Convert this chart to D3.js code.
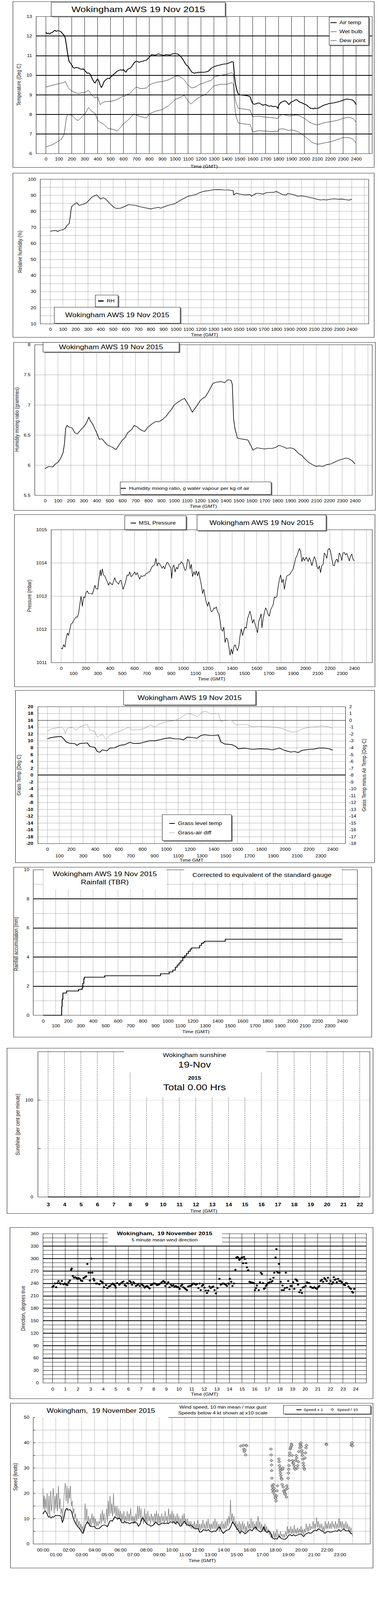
<!DOCTYPE html>
<html><head><meta charset="utf-8">
<script src="https://cdn.jsdelivr.net/npm/d3@7"></script>
<style>
html,body{margin:0;padding:0;background:#fff;}
svg{display:block;font-family:"Liberation Sans",Arial,sans-serif;}
</style></head><body>
<svg id="c" width="1000" height="4096" viewBox="0 0 1000 5000" preserveAspectRatio="none"></svg>
<script>
// ---------------- DATA ----------------
const hundreds = [0,100,200,300,400,500,600,700,800,900,1000,1100,1200,1300,1400,1500,1600,1700,1800,1900,2000,2100,2200,2300,2400];
const hundredsGrid = [0,100,200,300,400,500,600,700,800,900,1000,1100,1200,1300,1400,1500,1600,1700,1800,1900,2000,2100,2200,2300,2400,2500];
const evenHundreds = [0,200,400,600,800,1000,1200,1400,1600,1800,2000,2200,2400];
const oddHundreds = [100,300,500,700,900,1100,1300,1500,1700,1900,2100,2300];
const hours24 = [0,1,2,3,4,5,6,7,8,9,10,11,12,13,14,15,16,17,18,19,20,21,22,23,24];
const hours25 = [0,1,2,3,4,5,6,7,8,9,10,11,12,13,14,15,16,17,18,19,20,21,22,23,24,25];
const evenHours = [0,2,4,6,8,10,12,14,16,18,20,22];
const oddHours = [1,3,5,7,9,11,13,15,17,19,21,23];
const sunHours = [3,4,5,6,7,8,9,10,11,12,13,14,15,16,17,18,19,20,21,22];

const tempTicks = [6,7,8,9,10,11,12,13];
const rhTicks = [10,20,30,40,50,60,70,80,90,100];
const mixTicks = [5.5,6,6.5,7,7.5,8];
const presTicks = [1011,1012,1013,1014,1015];
const grassTicks = [-20,-18,-16,-14,-12,-10,-8,-6,-4,-2,0,2,4,6,8,10,12,14,16,18,20];
const diffTicks = [-18,-17,-16,-15,-14,-13,-12,-11,-10,-9,-8,-7,-6,-5,-4,-3,-2,-1,0,1,2];
const rainTicks = [0,2,4,6,8,10];
const sunTicks = [0,100];
const dirTicks = [0,30,60,90,120,150,180,210,240,270,300,330,360];
const speedTicks = [0,10,20,30,40,50];

const airTemp = [[0,12.2],[10,12.12],[20,12.15],[30,12.1],[40,12.18],[50,12.18],[60,12.25],[70,12.3],[80,12.24],[90,12.28],[100,12.27],[110,12.25],[120,12.2],[130,12.12],[140,12.05],[150,11.9],[155,11.7],[160,11.5],[165,11.25],[170,11.05],[175,10.85],[180,10.7],[190,10.62],[200,10.53],[210,10.4],[220,10.36],[235,10.4],[250,10.38],[265,10.33],[280,10.3],[290,10.33],[300,10.25],[310,10.18],[320,10.1],[330,10.12],[340,10.08],[350,9.95],[360,9.8],[370,9.68],[380,9.6],[390,9.72],[400,9.82],[410,9.7],[420,9.5],[430,9.37],[440,9.5],[450,9.68],[460,9.75],[470,9.8],[480,9.85],[490,9.82],[500,9.9],[510,9.95],[520,10.02],[535,10.1],[550,10.2],[565,10.25],[580,10.28],[590,10.25],[600,10.3],[610,10.2],[620,10.16],[630,10.28],[640,10.33],[650,10.35],[660,10.41],[670,10.5],[680,10.61],[690,10.68],[700,10.72],[710,10.7],[720,10.66],[735,10.7],[750,10.72],[765,10.75],[780,10.78],[790,10.85],[800,10.92],[810,11.0],[820,11.06],[835,11.04],[850,11.03],[860,11.06],[870,11.09],[885,11.07],[900,11.03],[915,11.02],[930,11.06],[945,11.05],[960,11.03],[970,11.07],[980,11.09],[990,11.1],[1000,11.12],[1010,11.1],[1020,11.09],[1030,11.04],[1040,10.98],[1050,10.9],[1060,10.81],[1070,10.7],[1080,10.58],[1090,10.5],[1100,10.47],[1110,10.35],[1120,10.25],[1130,10.15],[1140,10.13],[1150,10.1],[1160,10.13],[1170,10.12],[1180,10.16],[1190,10.14],[1200,10.16],[1215,10.15],[1230,10.16],[1245,10.18],[1260,10.22],[1270,10.3],[1280,10.36],[1290,10.4],[1300,10.44],[1315,10.47],[1330,10.5],[1345,10.52],[1360,10.55],[1375,10.57],[1390,10.58],[1405,10.6],[1420,10.64],[1430,10.66],[1440,10.7],[1450,10.67],[1455,10.3],[1460,9.91],[1465,9.65],[1470,9.46],[1480,9.18],[1490,9.05],[1500,9.0],[1515,8.99],[1530,8.98],[1545,8.97],[1560,8.95],[1570,8.93],[1580,8.9],[1590,8.72],[1600,8.56],[1610,8.52],[1620,8.53],[1635,8.57],[1650,8.59],[1665,8.52],[1680,8.47],[1690,8.5],[1700,8.5],[1715,8.45],[1730,8.42],[1745,8.44],[1760,8.39],[1775,8.42],[1790,8.36],[1795,8.3],[1800,8.45],[1810,8.55],[1820,8.62],[1835,8.66],[1850,8.7],[1860,8.65],[1870,8.59],[1880,8.5],[1890,8.58],[1900,8.64],[1910,8.66],[1920,8.7],[1930,8.74],[1940,8.76],[1950,8.7],[1960,8.64],[1970,8.62],[1980,8.59],[1990,8.56],[2000,8.53],[2010,8.5],[2020,8.47],[2030,8.4],[2040,8.36],[2050,8.3],[2060,8.31],[2070,8.28],[2080,8.33],[2090,8.3],[2100,8.31],[2110,8.33],[2120,8.36],[2135,8.42],[2150,8.47],[2165,8.5],[2180,8.53],[2190,8.56],[2200,8.56],[2215,8.58],[2230,8.59],[2245,8.62],[2260,8.64],[2275,8.67],[2290,8.7],[2300,8.73],[2315,8.76],[2330,8.79],[2345,8.77],[2360,8.76],[2370,8.74],[2380,8.7],[2390,8.62],[2400,8.5]];
const wetBulb = [[0,9.4],[25,9.44],[50,9.49],[75,9.53],[100,9.57],[120,9.6],[140,9.63],[150,9.68],[160,9.55],[170,9.4],[185,9.28],[200,9.2],[225,9.12],[250,9.06],[275,9.1],[300,9.12],[315,9.18],[330,9.23],[340,9.15],[350,9.04],[365,8.92],[380,8.84],[390,8.88],[400,8.9],[410,8.7],[420,8.5],[435,8.58],[450,8.64],[475,8.66],[500,8.67],[525,8.7],[550,8.76],[575,8.85],[600,8.95],[610,8.9],[620,9.0],[650,9.06],[665,9.18],[680,9.29],[700,9.4],[715,9.36],[730,9.32],[755,9.33],[780,9.35],[800,9.51],[825,9.57],[850,9.63],[875,9.66],[900,9.68],[925,9.72],[950,9.77],[975,9.85],[1000,9.94],[1020,9.97],[1035,9.93],[1050,9.88],[1065,9.8],[1080,9.68],[1090,9.58],[1100,9.49],[1115,9.42],[1130,9.35],[1145,9.38],[1160,9.4],[1180,9.5],[1200,9.57],[1220,9.6],[1240,9.66],[1260,9.7],[1280,9.74],[1290,9.82],[1300,9.91],[1320,9.95],[1340,9.97],[1370,10.02],[1400,10.06],[1420,10.1],[1440,10.13],[1450,10.07],[1455,9.6],[1460,9.06],[1465,8.8],[1470,8.62],[1480,8.45],[1490,8.31],[1510,8.29],[1530,8.28],[1555,8.25],[1580,8.22],[1590,8.05],[1600,7.88],[1625,7.9],[1650,7.91],[1675,7.88],[1700,7.86],[1725,7.85],[1750,7.83],[1775,7.82],[1790,7.78],[1800,7.88],[1815,7.95],[1830,8.0],[1850,7.97],[1870,7.94],[1885,7.92],[1900,7.94],[1920,7.96],[1940,7.97],[1960,7.94],[1980,7.87],[2000,7.8],[2020,7.7],[2040,7.6],[2060,7.54],[2080,7.49],[2100,7.47],[2125,7.52],[2150,7.57],[2175,7.6],[2200,7.63],[2225,7.66],[2250,7.69],[2275,7.74],[2300,7.8],[2320,7.83],[2340,7.86],[2360,7.83],[2380,7.77],[2390,7.7],[2400,7.6]];
const dewPoint = [[0,6.34],[25,6.4],[50,6.45],[75,6.55],[100,6.65],[120,6.73],[130,6.85],[140,6.96],[145,7.15],[150,7.38],[155,7.65],[160,7.88],[170,8.0],[185,7.98],[200,7.97],[215,7.87],[230,7.77],[240,7.72],[250,7.69],[275,7.85],[300,8.0],[315,8.18],[330,8.36],[340,8.28],[350,8.19],[365,8.12],[380,8.05],[390,7.9],[400,7.71],[410,7.65],[420,7.6],[435,7.55],[450,7.49],[465,7.38],[480,7.29],[500,7.26],[520,7.24],[535,7.2],[550,7.15],[565,7.25],[580,7.35],[600,7.52],[625,7.65],[650,7.8],[665,7.92],[680,8.03],[700,7.97],[725,7.9],[750,7.86],[765,7.84],[780,7.83],[800,8.03],[825,8.1],[850,8.17],[875,8.2],[900,8.25],[925,8.35],[950,8.45],[975,8.6],[1000,8.76],[1025,8.83],[1050,8.9],[1070,8.98],[1080,8.88],[1090,8.78],[1105,8.65],[1120,8.53],[1135,8.6],[1150,8.7],[1175,8.82],[1200,8.92],[1220,8.98],[1240,9.04],[1260,9.18],[1280,9.32],[1300,9.46],[1325,9.5],[1350,9.54],[1375,9.54],[1400,9.54],[1420,9.58],[1440,9.63],[1450,9.54],[1455,9.0],[1460,8.5],[1465,8.2],[1470,7.94],[1480,7.72],[1490,7.57],[1510,7.54],[1530,7.52],[1555,7.5],[1580,7.49],[1590,7.3],[1600,7.1],[1625,7.14],[1650,7.18],[1675,7.16],[1700,7.15],[1725,7.14],[1750,7.12],[1775,7.15],[1790,7.1],[1800,7.24],[1820,7.26],[1840,7.26],[1860,7.22],[1880,7.18],[1900,7.21],[1920,7.18],[1940,7.15],[1960,7.08],[1980,6.99],[2000,6.9],[2020,6.79],[2040,6.68],[2060,6.57],[2080,6.52],[2100,6.48],[2125,6.5],[2150,6.54],[2175,6.57],[2200,6.6],[2225,6.65],[2250,6.71],[2275,6.76],[2300,6.82],[2320,6.82],[2340,6.82],[2360,6.78],[2380,6.71],[2390,6.63],[2400,6.54]];

const relHum = [[0,67.4],[10,67.9],[30,68.0],[50,68.0],[60,67.4],[70,68.1],[100,68.6],[120,69.5],[130,71.0],[150,72.4],[155,75],[160,77.2],[165,81],[170,83.0],[190,84.4],[210,85.4],[230,83.7],[260,84.4],[290,85.4],[310,87.1],[330,88.8],[360,90.1],[370,90.2],[385,89],[400,87.7],[420,88.5],[440,87.8],[460,86.1],[480,84.4],[510,82.3],[530,81.8],[560,82.0],[600,83.3],[620,84.2],[650,84.0],[680,83.7],[710,83.0],[740,82.5],[770,82.0],[800,81.5],[830,82.1],[860,82.5],[880,82.0],[910,83.0],[950,84.0],[990,84.7],[1010,85.7],[1050,87.5],[1080,88.8],[1100,89.5],[1130,89.9],[1160,90.5],[1190,91.7],[1220,92.5],[1260,92.9],[1300,93.5],[1340,93.6],[1380,93.4],[1420,93.3],[1455,92.9],[1460,90.2],[1480,91.4],[1510,90.7],[1550,90.3],[1590,90.5],[1600,89.5],[1640,91.2],[1670,91.2],[1690,90.7],[1720,91.6],[1750,91.8],[1780,91.9],[1800,92.4],[1820,91.6],[1850,90.4],[1880,90.2],[1890,91.2],[1920,90.7],[1950,90.1],[1970,89.4],[2000,89.7],[2030,89.3],[2060,88.8],[2090,88.3],[2120,87.6],[2150,87.1],[2180,87.3],[2200,87.1],[2230,87.6],[2260,87.8],[2290,87.6],[2320,87.7],[2350,87.3],[2380,87.0],[2400,87.6]];

const mixRatio = [[0,5.94],[10,5.96],[30,5.98],[60,5.97],[80,6.02],[100,6.05],[120,6.11],[140,6.21],[150,6.35],[160,6.61],[170,6.66],[190,6.63],[210,6.62],[230,6.54],[250,6.52],[270,6.57],[300,6.64],[320,6.70],[340,6.80],[350,6.74],[370,6.68],[380,6.63],[400,6.54],[420,6.43],[440,6.44],[460,6.39],[480,6.34],[500,6.32],[520,6.30],[550,6.26],[580,6.36],[600,6.42],[620,6.46],[640,6.54],[670,6.59],[690,6.66],[710,6.64],[740,6.59],[770,6.56],[800,6.64],[830,6.69],[860,6.73],[880,6.72],[910,6.76],[940,6.82],[960,6.88],[980,6.93],[1000,7.0],[1030,7.05],[1060,7.09],[1080,7.11],[1100,7.04],[1120,6.97],[1140,6.88],[1160,6.94],[1180,7.0],[1200,7.07],[1220,7.11],[1240,7.13],[1260,7.2],[1280,7.28],[1300,7.36],[1330,7.38],[1360,7.39],[1390,7.37],[1410,7.41],[1420,7.42],[1440,7.41],[1450,7.34],[1460,6.77],[1470,6.61],[1490,6.45],[1510,6.44],[1540,6.43],[1570,6.42],[1590,6.34],[1610,6.25],[1640,6.29],[1670,6.28],[1700,6.27],[1730,6.28],[1760,6.28],[1790,6.30],[1810,6.33],[1840,6.31],[1870,6.28],[1900,6.29],[1930,6.27],[1960,6.2],[1990,6.16],[2010,6.11],[2040,6.05],[2070,6.01],[2100,5.98],[2120,5.99],[2150,5.98],[2180,6.01],[2210,6.02],[2240,6.05],[2270,6.08],[2300,6.10],[2330,6.12],[2350,6.11],[2380,6.07],[2400,6.02]];

const pressure = [[0,1011.44],[10,1011.41],[20,1011.54],[31,1011.47],[41,1011.72],[51,1011.89],[61,1011.82],[71,1011.99],[82,1012.17],[92,1012.19],[102,1012.27],[112,1012.32],[123,1012.38],[133,1012.37],[143,1012.48],[153,1012.75],[163,1013.0],[174,1012.70],[184,1012.98],[194,1012.95],[204,1013.11],[214,1013.16],[225,1013.08],[245,1013.08],[255,1013.06],[266,1013.18],[276,1013.33],[286,1013.23],[300,1013.21],[310,1013.51],[321,1013.79],[327,1013.61],[337,1013.82],[347,1013.64],[357,1013.61],[368,1013.51],[378,1013.44],[388,1013.33],[398,1013.42],[408,1013.38],[419,1013.34],[429,1013.44],[439,1013.56],[449,1013.44],[460,1013.41],[470,1013.36],[480,1013.46],[490,1013.48],[500,1013.33],[507,1013.21],[521,1013.34],[531,1013.48],[541,1013.64],[551,1013.62],[562,1013.73],[572,1013.59],[582,1013.61],[592,1013.68],[603,1013.73],[613,1013.64],[623,1013.71],[633,1013.61],[643,1013.51],[654,1013.62],[664,1013.59],[674,1013.62],[684,1013.61],[694,1013.68],[705,1013.69],[715,1013.73],[725,1013.73],[735,1013.82],[746,1013.89],[756,1013.92],[766,1013.96],[776,1014.14],[786,1013.91],[796,1014.01],[807,1013.97],[817,1013.91],[827,1013.84],[837,1013.91],[848,1013.82],[858,1013.94],[868,1014.02],[878,1013.99],[888,1013.91],[899,1013.84],[905,1013.54],[913,1013.87],[923,1013.94],[933,1013.73],[944,1013.87],[954,1013.82],[964,1013.96],[975,1013.97],[985,1014.04],[995,1013.99],[1005,1013.89],[1015,1013.77],[1025,1013.82],[1036,1014.11],[1046,1014.07],[1056,1013.82],[1066,1013.96],[1076,1013.59],[1087,1013.74],[1097,1013.64],[1107,1013.76],[1117,1013.61],[1127,1013.74],[1138,1013.51],[1148,1013.34],[1158,1013.08],[1168,1013.21],[1179,1012.98],[1189,1012.81],[1199,1012.70],[1209,1012.83],[1219,1012.67],[1230,1012.53],[1240,1012.55],[1250,1012.65],[1260,1012.63],[1270,1012.68],[1281,1012.53],[1291,1012.48],[1301,1012.28],[1311,1012.0],[1322,1011.95],[1332,1012.07],[1342,1011.61],[1352,1011.74],[1362,1011.72],[1373,1011.49],[1383,1011.23],[1393,1011.41],[1403,1011.26],[1414,1011.47],[1424,1011.54],[1434,1011.44],[1444,1011.36],[1455,1011.51],[1465,1011.82],[1475,1012.02],[1485,1011.82],[1495,1011.95],[1505,1012.07],[1516,1012.04],[1526,1012.32],[1536,1012.43],[1546,1012.55],[1556,1012.40],[1567,1012.19],[1577,1012.30],[1587,1012.17],[1597,1012.05],[1608,1011.90],[1618,1012.24],[1628,1012.35],[1638,1012.47],[1644,1012.05],[1654,1012.32],[1665,1012.52],[1675,1012.65],[1685,1012.57],[1695,1012.45],[1705,1012.40],[1716,1012.60],[1726,1012.67],[1736,1012.75],[1746,1012.98],[1756,1012.95],[1767,1013.01],[1777,1013.29],[1787,1013.51],[1797,1013.64],[1808,1013.41],[1818,1013.51],[1828,1013.21],[1838,1013.44],[1848,1013.61],[1859,1013.64],[1869,1013.64],[1900,1013.82],[1920,1014.14],[1930,1014.21],[1951,1014.44],[1961,1014.34],[1971,1014.04],[1981,1014.17],[1991,1014.07],[2008,1014.17],[2022,1014.04],[2032,1014.16],[2042,1014.07],[2053,1013.92],[2063,1014.07],[2073,1014.19],[2083,1014.11],[2094,1013.89],[2104,1013.82],[2114,1013.91],[2124,1013.71],[2134,1013.92],[2145,1013.96],[2155,1014.30],[2165,1014.24],[2175,1014.14],[2185,1014.40],[2196,1014.44],[2206,1014.34],[2216,1014.14],[2226,1013.94],[2236,1013.91],[2247,1014.07],[2257,1014.12],[2267,1014.02],[2277,1014.30],[2287,1014.24],[2298,1014.07],[2308,1014.30],[2318,1014.32],[2328,1014.24],[2339,1014.29],[2349,1014.17],[2359,1014.06],[2369,1014.20],[2380,1014.27],[2390,1014.11],[2400,1014.06]];

const grassTemp = [[0,10.6],[21,10.9],[52,11.1],[84,11.25],[115,11.3],[137,10.6],[158,9.7],[189,9.3],[231,9.2],[248,8.7],[273,9.25],[336,9.4],[357,8.4],[399,8.1],[420,6.9],[441,6.7],[462,7.4],[500,7.1],[525,7.9],[567,8.0],[609,8.7],[651,8.9],[693,9.6],[725,9.25],[777,9.3],[819,9.7],[861,10.05],[903,10.05],[945,10.35],[987,10.7],[1029,10.9],[1071,10.6],[1113,10.6],[1145,10.3],[1176,11.1],[1218,11.0],[1261,10.8],[1292,11.6],[1323,11.8],[1366,11.6],[1408,11.6],[1439,11.75],[1460,9.7],[1492,9.1],[1555,8.9],[1586,8.35],[1607,7.7],[1660,7.9],[1723,7.55],[1786,7.7],[1849,7.65],[1891,7.4],[1954,7.9],[1996,7.25],[2048,6.75],[2080,6.9],[2111,6.6],[2143,7.25],[2206,7.55],[2248,7.65],[2290,7.95],[2332,7.9],[2374,7.7],[2400,7.3]];
const grassDiff = [[0,-1.57],[31,-1.25],[84,-1.09],[115,-0.97],[137,-1.25],[151,-1.89],[168,-1.17],[210,-1.0],[242,-1.49],[273,-0.93],[315,-0.69],[336,-0.6],[357,-1.41],[399,-1.65],[420,-2.45],[441,-2.21],[462,-2.05],[494,-2.77],[525,-2.21],[567,-1.81],[609,-1.57],[651,-1.25],[683,-1.0],[714,-1.41],[777,-1.33],[819,-1.17],[861,-0.69],[903,-0.93],[945,-0.52],[987,-0.28],[1029,-0.12],[1071,-0.04],[1103,0.2],[1134,0.52],[1176,1.0],[1218,0.92],[1261,0.52],[1303,1.24],[1334,1.36],[1366,1.0],[1408,0.97],[1439,1.04],[1460,-0.2],[1492,0.04],[1555,-0.04],[1586,-0.69],[1618,-0.6],[1681,-0.6],[1723,-0.93],[1786,-0.85],[1849,-0.93],[1912,-1.0],[1975,-1.17],[2017,-1.49],[2059,-1.73],[2101,-1.65],[2143,-1.25],[2206,-1.0],[2269,-0.93],[2311,-0.8],[2363,-0.93],[2400,-1.17]];

const rainAccum = [[0,0],[144,0],[148,0.6],[152,1.1],[158,1.53],[188,1.67],[284,1.77],[312,1.9],[318,2.2],[326,2.5],[330,2.62],[494,2.72],[941,2.85],[1011,2.98],[1040,3.1],[1060,3.3],[1075,3.45],[1090,3.6],[1105,3.75],[1120,3.95],[1135,4.1],[1150,4.25],[1165,4.4],[1180,4.55],[1191,4.63],[1255,4.8],[1270,4.95],[1285,5.02],[1295,5.09],[1461,5.23],[2400,5.23]];

const sunshine = [[3,0],[4,0],[5,0],[6,0],[7,0],[8,0],[9,0],[10,0],[11,0],[12,0],[13,0],[14,0],[15,0],[16,0],[17,0],[18,0],[19,0],[20,0],[21,0],[22,0]];

// wind direction: [minutes, degrees]
const windDir = [[0,232],[5,234],[11,240],[17,231],[23,241],[28,246],[34,241],[38,239],[44,246],[52,238],[58,240],
[64,238],[70,236],[76,243],[82,247],[88,273],[91,276],[96,258],[102,254],[108,255],[114,253],[119,251],
[123,253],[129,251],[135,247],[141,246],[147,253],[153,255],[159,257],[165,287],[171,266],[177,247],[180,266],
[185,300],[189,266],[195,251],[198,247],[206,240],[212,240],[222,238],[228,246],[234,244],[238,242],
[245,231],[254,236],[260,229],[268,233],[274,234],[281,238],[286,240],[292,237],[298,234],[300,230],
[307,241],[317,237],[323,240],[331,243],[337,245],[343,236],[349,234],[355,241],[359,240],
[366,246],[372,243],[378,237],[384,243],[390,240],[396,234],[402,236],[408,239],[414,234],[420,239],
[426,237],[432,234],[438,230],[444,233],[449,234],[455,231],[461,228],[467,236],[473,237],[479,240],
[485,240],[491,239],[497,236],[503,237],[509,239],[515,241],[521,244],[527,246],[533,243],[536,234],
[544,239],[550,243],[556,231],[562,237],[568,234],[574,236],[580,232],[586,234],[592,231],[598,231],
[604,227],[610,234],[616,237],[621,231],[627,229],[633,226],[639,224],[645,233],[651,234],[657,234],
[663,237],[669,240],[675,239],[681,237],[687,239],[693,229],[699,240],[704,224],[710,234],[716,237],
[722,230],[728,223],[734,217],[740,223],[746,233],[752,229],[758,231],[764,233],[770,224],[776,216],
[784,229],[793,251],[799,237],[805,239],[811,240],[817,239],[823,237],[829,234],[835,240],[838,239],
[843,251],[849,244],[855,234],[862,240],[869,273],[874,303],[879,304],[885,301],[888,297],[894,300],
[900,303],[906,289],[910,304],[914,299],[920,289],[924,279],[930,272],[936,244],[942,243],[950,242],[956,241],
[962,224],[967,229],[971,235],[980,224],[986,243],[990,266],[995,263],[1000,241],[1005,227],[1009,229],[1014,234],[1019,237],
[1025,241],[1031,243],[1035,250],[1040,244],[1045,246],[1050,254],[1054,266],[1060,303],[1064,323],[1067,269],[1071,266],[1076,287],[1079,266],
[1084,244],[1090,224],[1093,235],[1099,224],[1104,229],[1109,266],[1114,230],[1120,246],[1126,226],[1131,234],[1137,234],
[1144,243],[1149,227],[1155,250],[1159,249],[1163,246],[1167,237],[1173,219],[1179,224],[1185,217],[1188,230],[1194,231],
[1203,234],[1209,243],[1214,241],[1220,241],[1226,232],[1232,230],[1238,229],[1244,231],[1250,229],[1256,227],
[1262,231],[1268,234],[1274,246],[1280,249],[1286,244],[1292,253],[1297,250],[1303,246],[1309,254],[1315,240],
[1321,246],[1327,239],[1333,243],[1337,255],[1341,249],[1346,250],[1351,243],[1357,251],[1363,246],[1369,246],[1375,243],
[1384,237],[1390,236],[1395,241],[1401,240],[1407,233],[1413,229],[1418,227],[1424,220],[1428,218],[1434,227]];

// wind speed: [hour, knots]
const windMean = [[0,11.8],[0.08,12.6],[0.19,13.1],[0.35,11.6],[0.44,10.6],[0.54,10.8],[0.64,10.3],[0.73,10.8],[0.83,10.6],[0.97,11.3],[1.12,11.2],[1.31,11.3],[1.41,10.8],[1.51,8.5],[1.6,9.8],[1.74,13.4],[1.86,14.1],[1.93,13.4],[2.09,13.6],[2.22,12.8],[2.32,10.8],[2.42,9.3],[2.57,7.8],[2.71,6.8],[2.82,6.2],[2.9,5.7],[3.02,4.7],[3.11,4.2],[3.21,5.7],[3.3,7.5],[3.44,8.8],[3.56,8.0],[3.67,7.0],[3.83,6.8],[3.98,7.0],[4.12,6.1],[4.25,6.0],[4.37,6.2],[4.5,6.8],[4.6,7.3],[4.75,7.5],[4.89,7.3],[4.99,6.8],[5.08,7.8],[5.18,9.0],[5.28,9.3],[5.37,9.0],[5.47,9.8],[5.57,10.8],[5.68,10.3],[5.8,9.8],[5.89,10.3],[5.99,9.8],[6.11,8.5],[6.24,8.3],[6.34,9.0],[6.44,8.3],[6.57,8.5],[6.73,8.0],[6.88,8.5],[7.02,8.3],[7.11,8.8],[7.27,8.3],[7.4,7.0],[7.54,8.0],[7.63,9.8],[7.73,10.3],[7.85,9.5],[7.92,8.8],[8.04,8.0],[8.18,7.5],[8.27,7.5],[8.37,7.0],[8.5,7.3],[8.62,7.8],[8.74,8.8],[8.85,8.0],[8.99,7.5],[9.14,8.0],[9.28,8.3],[9.43,8.0],[9.59,8.3],[9.72,8.0],[9.86,8.8],[10.01,8.5],[10.15,8.8],[10.26,8.0],[10.4,8.8],[10.53,8.0],[10.63,7.0],[10.75,7.3],[10.88,8.5],[10.98,9.0],[11.07,8.0],[11.21,7.5],[11.32,7.3],[11.46,7.5],[11.6,6.8],[11.75,6.2],[11.91,6.0],[12.04,6.1],[12.14,4.7],[12.29,4.8],[12.43,5.7],[12.52,5.5],[12.68,5.2],[12.81,5.7],[12.95,5.0],[13.1,4.7],[13.26,5.2],[13.39,5.0],[13.53,6.0],[13.68,6.8],[13.84,5.2],[13.97,4.2],[14.11,5.0],[14.26,5.5],[14.42,5.7],[14.55,6.8],[14.69,8.8],[14.79,8.0],[14.88,7.3],[15.04,6.0],[15.13,5.5],[15.27,4.2],[15.38,5.2],[15.52,4.7],[15.66,4.0],[15.77,4.5],[15.91,5.2],[16.04,5.7],[16.2,5.2],[16.35,6.2],[16.49,6.8],[16.58,5.7],[16.72,5.2],[16.87,4.7],[17.01,5.5],[17.12,6.8],[17.22,5.2],[17.36,4.5],[17.51,5.2],[17.65,4.2],[17.74,2.7],[17.84,2.2],[17.94,1.9],[18.03,2.2],[18.13,1.9],[18.23,2.7],[18.32,3.2],[18.42,2.4],[18.52,2.1],[18.65,1.9],[18.77,1.9],[18.9,2.4],[19.04,3.5],[19.15,3.7],[19.29,3.2],[19.42,3.7],[19.54,3.2],[19.68,3.5],[19.81,3.7],[19.93,4.0],[20.06,3.7],[20.2,2.9],[20.31,3.7],[20.45,4.2],[20.58,4.5],[20.7,4.2],[20.84,4.5],[20.97,5.2],[21.09,5.5],[21.22,5.2],[21.32,6.0],[21.45,5.7],[21.57,5.2],[21.7,5.0],[21.84,4.2],[21.96,4.7],[22.09,5.0],[22.23,4.7],[22.38,4.7],[22.52,5.0],[22.67,5.2],[22.81,5.0],[22.92,5.7],[23.06,5.0],[23.19,5.5],[23.31,6.0],[23.44,5.2],[23.58,5.2],[23.73,5.2],[23.83,4.2],[23.97,4.0]];
const windGust = [[0,22],[0.05,14],[0.1,19],[0.15,13],[0.2,18],[0.27,14],[0.33,20],[0.4,12],[0.47,19],[0.53,11],[0.6,21],[0.67,13],[0.73,17],[0.8,22],[0.87,12],[0.93,19],[1,14],[1.07,20],[1.13,13],[1.2,23],[1.27,14],[1.33,18],[1.4,12],[1.47,14],[1.53,10],[1.6,16],[1.67,21],[1.73,24],[1.8,17],[1.87,23],[1.93,16],[2,22],[2.07,18],[2.13,23],[2.2,15],[2.27,17],[2.33,12],[2.4,14],[2.47,10],[2.53,12],[2.6,8],[2.67,10],[2.73,7],[2.8,9],[2.87,6],[2.93,8],[3,5.5],[3.07,7],[3.13,4.5],[3.2,9],[3.27,16],[3.33,9],[3.4,14],[3.47,8],[3.53,11],[3.6,7],[3.67,10],[3.73,7],[3.8,12],[3.87,8],[3.93,11],[4,7],[4.07,10],[4.13,7],[4.2,9],[4.27,7],[4.33,9],[4.4,8],[4.47,12],[4.53,8],[4.6,13.5],[4.67,9],[4.73,12],[4.8,8],[4.87,10],[4.93,14],[5,9],[5.07,17],[5.13,11],[5.2,19],[5.27,12],[5.33,16],[5.4,11],[5.47,20],[5.53,12],[5.6,15],[5.67,11],[5.73,15],[5.8,10],[5.87,14],[5.93,10],[6,13],[6.07,9],[6.13,12],[6.2,9],[6.27,13],[6.33,9],[6.4,11],[6.47,9],[6.53,13],[6.6,9],[6.67,12],[6.73,9],[6.8,14],[6.87,9],[6.93,11],[7,8],[7.07,11],[7.13,8],[7.2,12],[7.27,9],[7.33,15],[7.4,10],[7.47,15],[7.53,10],[7.6,14],[7.67,9],[7.73,11],[7.8,8],[7.87,14],[7.93,9],[8,12],[8.07,8],[8.13,13],[8.2,9],[8.27,11],[8.33,8],[8.4,12],[8.47,9],[8.53,11],[8.6,8],[8.67,12],[8.73,9],[8.8,13],[8.87,8],[8.93,12],[9,8],[9.07,11],[9.13,8],[9.2,12],[9.27,9],[9.33,11],[9.4,8],[9.47,13],[9.53,9],[9.6,11],[9.67,8],[9.73,14],[9.8,9],[9.87,12],[9.93,9],[10,13],[10.07,8],[10.13,12],[10.2,8],[10.27,11],[10.33,7.5],[10.4,12],[10.47,8],[10.53,11],[10.6,8],[10.67,10],[10.73,7],[10.8,11.5],[10.87,8],[10.93,12],[11,8],[11.07,10],[11.13,7],[11.2,10],[11.27,7],[11.33,9],[11.4,6.5],[11.47,9],[11.53,6],[11.6,8],[11.67,6],[11.73,9],[11.8,5.5],[11.87,8],[11.93,6],[12,9.5],[12.07,5.5],[12.13,8],[12.2,5.5],[12.27,8],[12.33,6],[12.4,9.5],[12.47,6],[12.53,8],[12.6,5.5],[12.67,9],[12.73,6],[12.8,10],[12.87,6],[12.93,8],[13,5.5],[13.07,8],[13.13,6],[13.2,9],[13.27,6],[13.33,10],[13.4,6],[13.47,9],[13.53,5.5],[13.6,8],[13.67,5],[13.73,8],[13.8,6],[13.87,9],[13.93,6],[14,8],[14.07,6],[14.13,9],[14.2,6],[14.27,10],[14.33,7],[14.4,11],[14.47,8],[14.53,17.5],[14.6,9],[14.67,12],[14.73,8],[14.8,11],[14.87,7],[14.93,9],[15,5.5],[15.07,8],[15.13,5],[15.2,9],[15.27,5],[15.33,8],[15.4,5],[15.47,9],[15.53,5.5],[15.6,8],[15.67,4.5],[15.73,7],[15.8,5],[15.87,9],[15.93,6],[16,8],[16.07,6],[16.13,10],[16.2,6],[16.27,9],[16.33,6],[16.4,8],[16.47,5.5],[16.53,9],[16.6,6],[16.67,11],[16.73,6],[16.8,9],[16.87,5.5],[16.93,8],[17,5],[17.07,7],[17.13,5],[17.2,8],[17.27,5],[17.33,7],[17.4,4.5],[17.47,6],[17.53,3.5],[17.6,5],[17.67,2.5],[17.73,4],[17.8,2.5],[17.87,5],[17.93,2.5],[18,4.5],[18.07,2.5],[18.13,6],[18.2,3],[18.27,4],[18.33,2.5],[18.4,5],[18.47,3],[18.53,4],[18.6,2.5],[18.67,4],[18.73,2.5],[18.8,5],[18.87,3],[18.93,7],[19,4],[19.07,6],[19.13,4],[19.2,7],[19.27,4],[19.33,6],[19.4,4],[19.47,7.5],[19.53,4],[19.6,6],[19.67,4],[19.73,6.5],[19.8,4],[19.87,6],[19.93,4.5],[20,7],[20.07,4],[20.13,6],[20.2,3.5],[20.27,6],[20.33,4.5],[20.4,8],[20.47,5],[20.53,7],[20.6,5],[20.67,8],[20.73,5.5],[20.8,7],[20.87,6],[20.93,9],[21,6],[21.07,8],[21.13,6],[21.2,10.5],[21.27,6.5],[21.33,9],[21.4,6],[21.47,8],[21.53,6],[21.6,8],[21.67,5],[21.73,7],[21.8,5],[21.87,9],[21.93,6],[22,8],[22.07,6],[22.13,9],[22.2,6],[22.27,8],[22.33,6],[22.4,9],[22.47,6.5],[22.53,8],[22.6,6],[22.67,9],[22.73,6],[22.8,8],[22.87,6],[22.93,10],[23,6.5],[23.07,9],[23.13,6],[23.2,9],[23.27,6],[23.33,8],[23.4,6],[23.47,9],[23.53,6],[23.6,8],[23.67,5],[23.73,7],[23.8,4.5],[23.87,6.5],[23.93,4],[24,3]];
const windLowX10 = [[15.33,38.7],[15.52,39],[15.56,37.5],[15.6,36.5],[15.65,37.2],[15.7,35.2],[15.74,39],[15.78,38.8],
[17.66,37.5],[17.68,35.2],[17.7,33],[17.71,31.2],[17.72,29],[17.74,26],[17.76,23],[17.78,21.5],[17.8,22.5],[17.83,20.5],[17.86,23.5],[17.9,22],[17.93,21],[17.96,19.5],[18.0,18.5],[18.03,18],[18.06,17],[18.1,19],[18.13,21],[18.17,23],
[18.28,33.6],[18.3,32.5],[18.33,31],[18.36,30],[18.38,29],[18.4,28],[18.43,27],[18.46,26],[18.5,25.6],[18.53,23.5],[18.56,29.5],[18.58,30],
[18.62,22.5],[18.66,21],[18.7,20.5],[18.74,20],[18.78,19.5],[18.82,21.5],[18.86,18.5],[18.9,23],[18.94,22],
[19.0,26],[19.02,28],[19.04,29.5],[19.06,31],[19.08,33],[19.1,35],[19.13,36],[19.16,37.5],[19.19,38],[19.22,38.5],[19.25,39.5],[19.28,39],[19.31,35],[19.34,33],[19.37,32],
[19.42,32],[19.46,31],[19.5,30],[19.54,29.5],[19.58,33],[19.62,35],[19.66,34],[19.7,30],[19.74,31],[19.78,32.5],[19.82,36.5],
[19.9,38],[19.93,39.5],[19.96,39],[19.99,40],[20.02,38.5],[20.05,37],[20.08,36],[20.11,35],[20.14,33.5],[20.17,32],[20.2,31],[20.23,30],[20.26,29.5],[20.3,34],[20.34,36],[20.38,38],[20.42,39],
[21.95,39.5],[21.97,39.2],
[23.9,39],[23.93,39.5],[23.95,40],[23.97,38.8]];

// ---------------- HELPERS ----------------
const FONT = '"Liberation Sans",Arial,sans-serif';
const svg = d3.select('#c');
svg.append('rect').attr('width',1000).attr('height',5000).attr('fill','#fff');

function rect(g,x,y,w,h,o={}){
  return g.append('rect').attr('x',x).attr('y',y).attr('width',w).attr('height',h)
    .attr('fill',o.fill||'none').attr('stroke',o.stroke===undefined?'#000':o.stroke)
    .attr('stroke-width',o.sw||1).attr('shape-rendering','crispEdges');
}
function shadowBox(g,x,y,w,h){
  g.append('rect').attr('x',x+3).attr('y',y+3).attr('width',w).attr('height',h).attr('fill','#7f7f7f');
  rect(g,x,y,w,h,{fill:'#fff'});
}
function whiteBox(g,x,y,w,h){ g.append('rect').attr('x',x).attr('y',y).attr('width',w).attr('height',h).attr('fill','#fff'); }
function txt(g,x,y,s,o={}){
  const t=g.append('text').attr('x',x).attr('y',y).attr('font-size',o.size||12)
   .attr('text-anchor',o.anchor||'middle').attr('dominant-baseline','central')
   .attr('fill',o.fill||'#000').attr('font-family',FONT).text(s);
  if(o.weight) t.attr('font-weight',o.weight);
  if(o.rotate) t.attr('transform',`rotate(-90,${x},${y})`);
  if(o.pre) t.style('white-space','pre');
  return t;
}
function seg(g,x1,y1,x2,y2,o={}){
  return g.append('line').attr('x1',x1).attr('y1',y1).attr('x2',x2).attr('y2',y2)
   .attr('stroke',o.stroke||'#000').attr('stroke-width',o.sw||1)
   .attr('stroke-dasharray',o.dash||null).attr('shape-rendering','crispEdges');
}
function gridH(g,yS,vals,x0,x1,o={}){
  g.append('g').selectAll('line').data(vals).join('line')
   .attr('x1',x0).attr('x2',x1).attr('y1',d=>yS(d)).attr('y2',d=>yS(d))
   .attr('stroke',o.stroke||'#000').attr('stroke-width',o.sw||1)
   .attr('stroke-dasharray',o.dash||null).attr('shape-rendering','crispEdges');
}
function gridV(g,xS,vals,y0,y1,o={}){
  g.append('g').selectAll('line').data(vals).join('line')
   .attr('y1',y0).attr('y2',y1).attr('x1',d=>xS(d)).attr('x2',d=>xS(d))
   .attr('stroke',o.stroke||'#000').attr('stroke-width',o.sw||1)
   .attr('stroke-dasharray',o.dash||null).attr('shape-rendering','crispEdges');
}
function axisB(g,xS,y,vals,pad,size,fmt,weight){
  const ax=d3.axisBottom(xS).tickValues(vals).tickSize(0).tickPadding(pad).tickFormat(fmt||(d=>String(d)));
  const a=g.append('g').attr('transform',`translate(0,${y})`).call(ax);
  a.select('.domain').remove();
  a.attr('font-family',FONT).attr('font-size',size);
  a.selectAll('text').attr('fill','#000');
  if(weight) a.selectAll('text').attr('font-weight',weight);
}
function axisL(g,yS,x,vals,pad,size,fmt,weight){
  const ax=d3.axisLeft(yS).tickValues(vals).tickSize(0).tickPadding(pad).tickFormat(fmt||(d=>String(d)));
  const a=g.append('g').attr('transform',`translate(${x},0)`).call(ax);
  a.select('.domain').remove();
  a.attr('font-family',FONT).attr('font-size',size);
  a.selectAll('text').attr('fill','#000');
  if(weight) a.selectAll('text').attr('font-weight',weight);
}
function axisR(g,yS,x,vals,pad,size,fmt){
  const ax=d3.axisRight(yS).tickValues(vals).tickSize(0).tickPadding(pad).tickFormat(fmt||(d=>String(d)));
  const a=g.append('g').attr('transform',`translate(${x},0)`).call(ax);
  a.select('.domain').remove();
  a.attr('font-family',FONT).attr('font-size',size);
  a.selectAll('text').attr('fill','#000');
}
function path(g,data,xS,yS,o={}){
  const ln=d3.line().x(d=>xS(d[0])).y(d=>yS(d[1]));
  if(o.curve) ln.curve(o.curve);
  return g.append('path').datum(data).attr('d',ln).attr('fill','none')
   .attr('stroke',o.stroke||'#000').attr('stroke-width',o.sw||1).attr('stroke-linejoin','round');
}
const TITLE = 'Wokingham AWS 19 Nov 2015';
const DOT = '1,2';
const DIAMOND_SMALL = 'M0,-3.6L3.6,0L0,3.6L-3.6,0Z';
const DIAMOND_OPEN = 'M0,-4.2L4.2,0L0,4.2L-4.2,0Z';

// ---------------- PANEL 1: temperatures ----------------
{
  const g=svg.append('g');
  rect(g,33,5,924,518);
  const x=d3.scaleLinear().domain([-75,2525]).range([92.5,952]);
  const y=d3.scaleLinear().domain([6,13]).range([480,51.6]);
  gridV(g,x,hundredsGrid,51.6,480,{sw:1});
  gridH(g,y,[7,8,9,10,11,12],92.5,952,{sw:2.4});
  rect(g,92.5,51.6,859.5,428.4);
  path(g,dewPoint,x,y,{sw:1});
  path(g,wetBulb,x,y,{sw:1});
  path(g,airTemp,x,y,{sw:2.2});
  axisL(g,y,92.5,tempTicks,10.5,12.5);
  axisB(g,x,480,hundreds,12.8,12.5);
  txt(g,522,520,'Time (GMT)',{size:13});
  txt(g,48,265,'Temperature (Deg C)',{size:14,rotate:true,fill:'#222'});
  shadowBox(g,131,7,445,44);
  txt(g,353.5,29,TITLE,{size:25});
  shadowBox(g,842,53,101,88);
  seg(g,845,70.5,861,70.5,{sw:3});
  seg(g,845,99,861,99,{sw:1});
  seg(g,845,127,861,127,{sw:1});
  txt(g,868,70.5,'Air temp',{size:15,anchor:'start'});
  txt(g,868,99,'Wet bulb',{size:15,anchor:'start'});
  txt(g,868,127,'Dew point',{size:15,anchor:'start'});
}

// ---------------- PANEL 2: RH ----------------
{
  const g=svg.append('g');
  rect(g,33,541,924,513);
  const x=d3.scaleLinear().domain([-80,2535]).range([103,943]);
  const y=d3.scaleLinear().domain([10,100]).range([1012,560.2]);
  gridV(g,x,hundredsGrid,560.2,1012,{dash:DOT});
  gridH(g,y,[15,20,25,30,35,40,45,50,55,60,65,70,75,80,85,90,95],103,943,{dash:DOT});
  rect(g,103,560.2,840,451.8);
  path(g,relHum,x,y,{sw:1.6});
  axisL(g,y,103,rhTicks,10.5,12.5);
  axisB(g,x,1012,hundreds,12.8,12.5);
  txt(g,523,1047,'Time (GMT)',{size:13});
  txt(g,51,786.6,'Relative humidity (%)',{size:14,rotate:true,fill:'#222'});
  shadowBox(g,244,922,58,37);
  seg(g,251,940.5,265,940.5,{sw:3});
  txt(g,273,940.5,'RH',{size:14,anchor:'start'});
  shadowBox(g,139,960,322,50);
  txt(g,300,985,TITLE,{size:19.5});
}

// ---------------- PANEL 3: mixing ratio ----------------
{
  const g=svg.append('g');
  rect(g,35,1070,925,525);
  const x=d3.scaleLinear().domain([-79,2533]).range([89,952]);
  const y=d3.scaleLinear().domain([5.5,8]).range([1548,1077.5]);
  gridV(g,x,hundredsGrid,1077.5,1548,{dash:DOT});
  gridH(g,y,[6,6.5,7,7.5],89,952,{dash:DOT});
  rect(g,89,1077.5,863,470.5);
  path(g,mixRatio,x,y,{sw:1.6});
  axisL(g,y,89,mixTicks,11,12.5);
  axisB(g,x,1548,hundreds,12.8,12.5);
  txt(g,520,1583,'Time (GMT)',{size:13});
  txt(g,43,1311,'Humidity mixing ratio (grammes)',{size:14,rotate:true,fill:'#222'});
  shadowBox(g,110,1070,348,30);
  txt(g,284,1085,TITLE,{size:19.5});
  shadowBox(g,307.5,1506,386,39);
  seg(g,309,1526,322,1526,{sw:3});
  txt(g,330,1526,'Humidity mixing ratio, g water vapour per kg of air',{size:14,anchor:'start'});
}

// ---------------- PANEL 4: pressure ----------------
{
  const g=svg.append('g');
  rect(g,37,1608,922,538);
  const x=d3.scaleLinear().domain([-81,2547]).range([131,952]);
  const y=d3.scaleLinear().domain([1011,1015]).range([2071,1655.4]);
  gridV(g,x,hundredsGrid,1655.4,2071,{dash:DOT});
  gridH(g,y,[1012,1013,1014],131,952,{dash:DOT});
  rect(g,131,1655.4,821,415.6);
  path(g,pressure,x,y,{sw:1.4});
  axisL(g,y,131,presTicks,11,12.5);
  axisB(g,x,2071,evenHundreds,13.8,12.5);
  axisB(g,x,2071,oddHundreds,29.8,12.5);
  txt(g,541,2122.5,'Time (GMT)',{size:13});
  txt(g,75,1862,'Pressure (mbar)',{size:14,rotate:true,fill:'#222'});
  shadowBox(g,319,1612,157,43);
  seg(g,334,1634.5,348,1634.5,{sw:3});
  txt(g,355,1634.5,'MSL Pressure',{size:15,anchor:'start'});
  shadowBox(g,504,1609,330,49);
  txt(g,669,1634,TITLE,{size:19.5});
}

// ---------------- PANEL 5: grass temperature ----------------
{
  const g=svg.append('g');
  rect(g,39.5,2157.5,918.5,538.5);
  const x=d3.scaleLinear().domain([-80,2509]).range([97,883.6]);
  const yL=d3.scaleLinear().domain([-20,20]).range([2636.4,2208.4]);
  const yR=d3.scaleLinear().domain([-18,2]).range([2636.4,2208.4]);
  gridV(g,x,hundreds,2208.4,2636.4,{dash:DOT});
  gridH(g,yL,[-18,-16,-14,-12,-10,-8,-6,-4,-2,2,4,6,8,10,12,14,18],97,883.6,{dash:DOT});
  gridH(g,yL,[16],97,883.6,{sw:1.2});
  gridH(g,yL,[0],97,883.6,{sw:2.4});
  rect(g,97,2208.4,786.6,428);
  path(g,grassDiff,x,yR,{sw:1,stroke:'#8a8a8a'});
  path(g,grassTemp,x,yL,{sw:2});
  axisL(g,yL,97,grassTicks,12,12.5,null,'bold');
  axisR(g,yR,883.6,diffTicks,9.4,12.5);
  axisB(g,x,2636.4,evenHundreds,14,12.5);
  axisB(g,x,2636.4,oddHundreds,34.4,12.5);
  txt(g,490,2688.6,'Time GMT',{size:13});
  txt(g,48,2422,'Grass Temp (Deg C)',{size:14,rotate:true,fill:'#222'});
  txt(g,931,2422,'Grass Temp minus Air Temp (Deg C)',{size:14,rotate:true,fill:'#222'});
  shadowBox(g,316,2157.5,338,45.5);
  txt(g,485,2181,TITLE,{size:19.5});
  shadowBox(g,415,2546,177,81);
  seg(g,432.5,2573,446.5,2573,{sw:3});
  seg(g,432.5,2602,446.5,2602,{sw:1,stroke:'#8a8a8a'});
  txt(g,455,2573,'Grass level temp',{size:15,anchor:'start'});
  txt(g,455,2602,'Grass-air diff',{size:15,anchor:'start'});
}

// ---------------- PANEL 6: rainfall ----------------
{
  const g=svg.append('g');
  rect(g,35,2710,915.6,531);
  const x=d3.scaleLinear().domain([-80,2521]).range([85,914]);
  const y=d3.scaleLinear().domain([0,10]).range([3172.7,2718.2]);
  gridV(g,x,hundreds,2718.2,3172.7,{dash:DOT});
  gridH(g,y,[1,3,5,7,9],85,914,{dash:DOT});
  gridH(g,y,[2,4,6,8],85,914,{sw:2.4});
  rect(g,85,2718.2,829,454.5);
  whiteBox(g,112,2716,314,63);
  whiteBox(g,471,2716,403,40);
  path(g,rainAccum,x,y,{sw:2.2,curve:d3.curveStepAfter});
  axisL(g,y,85,rainTicks,10,12.5);
  axisB(g,x,3172.7,evenHundreds,14,12.5);
  axisB(g,x,3172.7,oddHundreds,29,12.5);
  txt(g,501,3224,'Time (GMT)',{size:13});
  txt(g,41.5,2950,'Rainfall accumulation (mm)',{size:14,rotate:true,fill:'#222'});
  txt(g,268,2731,TITLE,{size:19.5});
  txt(g,268,2757.5,'Rainfall (TBR)',{size:19.5});
  txt(g,670,2734,'Corrected to equivalent of the standard gauge',{size:17.5});
}

// ---------------- PANEL 7: sunshine ----------------
{
  const g=svg.append('g');
  rect(g,18,3275.5,936,516.5);
  const x=d3.scaleLinear().domain([2.38,22.62]).range([97,946]);
  const y=d3.scaleLinear().domain([0,150]).range([3740.6,3286.6]);
  gridV(g,x,sunHours,3286.6,3740.6,{dash:'3,3'});
  gridH(g,y,[50,100],97,946,{dash:'1,1.5',stroke:'#999'});
  gridH(g,y,[50,100],97,104,{});
  rect(g,97,3286.6,849,454);
  whiteBox(g,317,3284,364,66);
  whiteBox(g,338,3350,325,78);
  path(g,sunshine,x,y,{sw:2.6});
  axisL(g,y,97,sunTicks,12,12.5);
  axisB(g,x,3740.6,sunHours,18,15,null,'bold');
  txt(g,521,3785,'Time (GMT)',{size:13});
  txt(g,45,3514,'Sunshine (per cent per minute)',{size:14,rotate:true,fill:'#222'});
  txt(g,497.6,3296.6,'Wokingham sunshine',{size:17});
  txt(g,497.6,3327,'19-Nov',{size:26});
  txt(g,497.6,3369,'2015',{size:15,weight:'bold'});
  txt(g,497.6,3397.6,'Total 0.00 Hrs',{size:26});
}

// ---------------- PANEL 8: wind direction ----------------
{
  const g=svg.append('g');
  rect(g,25.5,3836,928.5,535);
  const x=d3.scaleLinear().domain([-0.76,24.86]).range([110,937]);
  const y=d3.scaleLinear().domain([0,360]).range([4321.7,3855.5]);
  gridV(g,x,hours24,3855.5,4321.7,{});
  gridH(g,y,[10,20,40,50,70,80,100,110,130,140,160,170,190,200,220,230,250,260,280,290,310,320,340,350],110,937,{});
  gridH(g,y,[30,60,90,120,150,180,210,240,270,300,330],110,937,{sw:2.4});
  rect(g,110,3855.5,827,466.2);
  whiteBox(g,275.6,3853,292.4,39.5);
  g.append('g').selectAll('path').data(windDir).join('path')
    .attr('d',DIAMOND_SMALL).attr('fill','#000')
    .attr('transform',d=>`translate(${x(d[0]/60)},${y(d[1])})`);
  axisL(g,y,110,dirTicks,11,12.5);
  axisB(g,x,4321.7,hours24,15,12.5);
  txt(g,523,4357.6,'Time (GMT)',{size:13});
  txt(g,59,4088.6,'Direction, degrees true',{size:14,rotate:true,fill:'#222'});
  txt(g,421,3855,'Wokingham,  19 November 2015',{size:16,weight:'bold',pre:true});
  txt(g,421,3875,'5 minute mean wind direction',{size:13});
}

// ---------------- PANEL 9: wind speed ----------------
{
  const g=svg.append('g');
  rect(g,26.8,4385,927.2,515);
  const x=d3.scaleLinear().domain([-0.75,25.36]).range([85,947]);
  const y=d3.scaleLinear().domain([0,50]).range([4825,4429.5]);
  gridV(g,x,hours25,4429.5,4825,{dash:DOT});
  gridH(g,y,[5,10,15,20,25,30,35,40,45],85,947,{dash:DOT});
  gridH(g,y,[5,10,15,20,25,30,35,40,45,50],85,90,{});
  seg(g,85,4429.5,85,4825);
  seg(g,85,4825,947,4825);
  seg(g,947,4429.5,947,4825);
  seg(g,430.7,4429.5,947,4429.5);
  path(g,windGust,x,y,{sw:1,stroke:'#4a4a4a'});
  path(g,windMean,x,y,{sw:2});
  g.append('g').selectAll('path').data(windLowX10).join('path')
    .attr('d',DIAMOND_OPEN).attr('fill','#c0c0c0').attr('stroke','#222').attr('stroke-width',0.9)
    .attr('transform',d=>`translate(${x(d[0])},${y(d[1])})`);
  const hfmt=d=>String(d).padStart(2,'0')+':00';
  axisL(g,y,85,speedTicks,10,12.5);
  axisB(g,x,4825,evenHours,14.8,12.5,hfmt);
  axisB(g,x,4825,oddHours,29.8,12.5,hfmt);
  txt(g,517,4877,'Time (GMT)',{size:13});
  txt(g,39.5,4615,'Speed (knots)',{size:14,rotate:true,fill:'#222'});
  txt(g,258,4409,'Wokingham,  19 November 2015',{size:19,pre:true});
  txt(g,570,4398,'Wind speed, 10 min mean / max gust',{size:13.5});
  txt(g,570,4415.4,'Speeds below 4 kt shown at x10 scale',{size:13.5});
  shadowBox(g,725,4391.5,223,27);
  seg(g,758,4405,771,4405,{sw:2.5});
  txt(g,776.5,4405,'Speed x 1',{size:11,anchor:'start'});
  g.append('path').attr('d',DIAMOND_OPEN).attr('fill','#c0c0c0').attr('stroke','#222').attr('stroke-width',0.9)
    .attr('transform','translate(850,4405)');
  txt(g,862,4405,'Speed / 10',{size:11,anchor:'start'});
}
</script>
</body></html>
